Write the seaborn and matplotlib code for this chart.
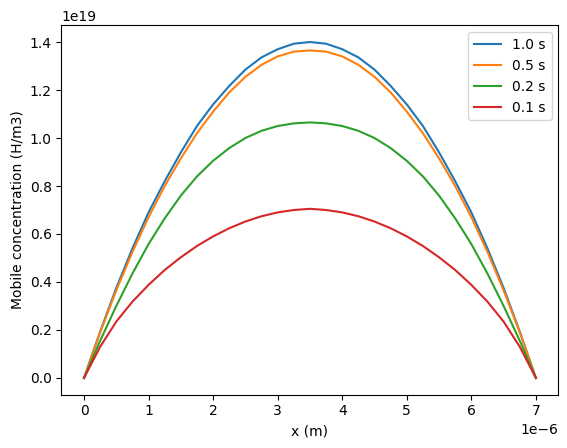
import numpy as np
import matplotlib
matplotlib.use('Agg')
import matplotlib.pyplot as plt
import seaborn as sns

# positions along the slab (in micrometres, scaled to m below)
x_um = [0.0, 0.25, 0.5, 0.75, 1.0, 1.25, 1.5, 1.75, 2.0, 2.25, 2.5, 2.75, 3.0, 3.25, 3.5,
        3.75, 4.0, 4.25, 4.5, 4.75, 5.0, 5.25, 5.5, 5.75, 6.0, 6.25, 6.5, 6.75, 7.0]

# mobile concentration (units of 1e19 H/m3)
c_1s = [0.0, 0.193, 0.375, 0.54, 0.69, 0.82, 0.94, 1.05, 1.14, 1.217, 1.285, 1.336, 1.37, 1.393, 1.40,
        1.393, 1.37, 1.336, 1.285, 1.217, 1.14, 1.05, 0.94, 0.82, 0.69, 0.54, 0.375, 0.193, 0.0]
c_05s = [0.0, 0.19, 0.365, 0.525, 0.67, 0.80, 0.915, 1.02, 1.11, 1.19, 1.255, 1.305, 1.34, 1.36, 1.365,
         1.36, 1.34, 1.305, 1.255, 1.19, 1.11, 1.02, 0.915, 0.80, 0.67, 0.525, 0.365, 0.19, 0.0]
c_02s = [0.0, 0.155, 0.30, 0.435, 0.558, 0.665, 0.76, 0.84, 0.905, 0.958, 1.00, 1.03, 1.05, 1.061, 1.065,
         1.061, 1.05, 1.03, 1.00, 0.958, 0.905, 0.84, 0.76, 0.665, 0.558, 0.435, 0.30, 0.155, 0.0]
c_01s = [0.0, 0.13, 0.235, 0.318, 0.388, 0.45, 0.503, 0.55, 0.59, 0.624, 0.652, 0.674, 0.69, 0.70, 0.705,
         0.70, 0.69, 0.674, 0.652, 0.624, 0.59, 0.55, 0.503, 0.45, 0.388, 0.318, 0.235, 0.13, 0.0]

labels = ['1.0 s', '0.5 s', '0.2 s', '0.1 s']
series = [c_1s, c_05s, c_02s, c_01s]
colors = ['#1f77b4', '#ff7f0e', '#2ca02c', '#d62728']

x = np.array(x_um) * 1e-6

fig = plt.figure(figsize=(5.67, 4.48), dpi=100)
ax = fig.add_axes([0.1083, 0.1188, 0.985 - 0.1083, 0.9437 - 0.1188])

for lab, vals, col in zip(labels, series, colors):
    sns.lineplot(x=x, y=np.array(vals) * 1e19, color=col, label=lab, ax=ax)

ax.set_xlabel('x (m)')
ax.set_ylabel('Mobile concentration (H/m3)')
ax.legend(loc='upper right')

plt.savefig('out.png', dpi=100)
